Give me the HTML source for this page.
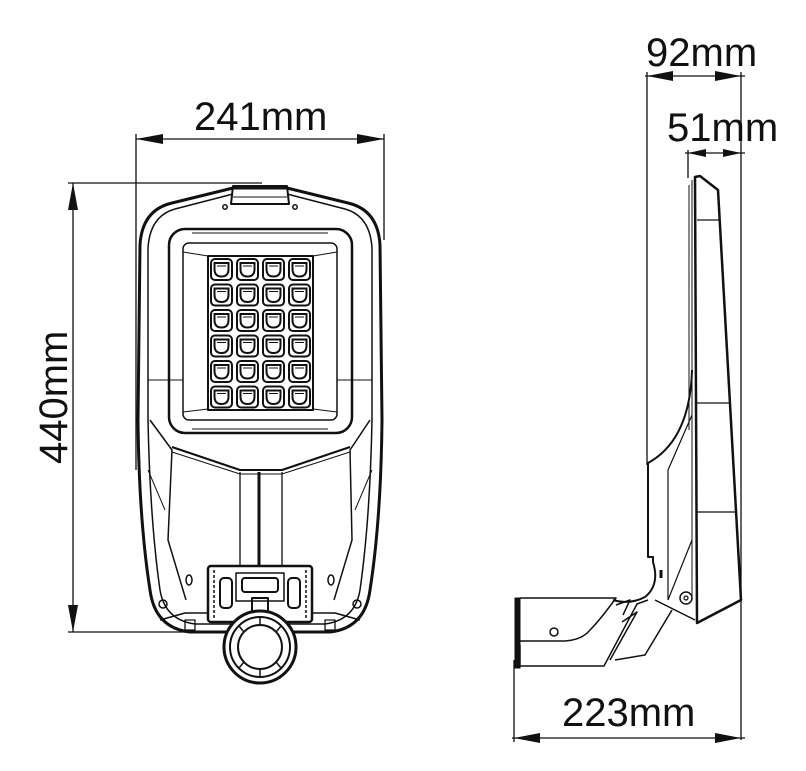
<!DOCTYPE html>
<html><head><meta charset="utf-8"><style>
html,body{margin:0;padding:0;background:#fff}
svg{display:block}
text{font-family:"Liberation Sans",Arial,sans-serif;font-size:40px;fill:#111}
</style></head><body>
<svg width="806" height="771" viewBox="0 0 806 771" xmlns="http://www.w3.org/2000/svg">
<g stroke="#111" fill="none" stroke-width="1.3">
<line x1="136" y1="139" x2="384" y2="139"/>
<line x1="136" y1="134" x2="136" y2="470"/>
<line x1="384" y1="134" x2="384" y2="240"/>
<line x1="73" y1="183" x2="73" y2="632"/>
<line x1="68" y1="183" x2="262" y2="183"/>
<line x1="68" y1="632" x2="190" y2="632"/>
<line x1="645" y1="76" x2="745" y2="76"/>
<line x1="647" y1="72" x2="647" y2="465"/>
<line x1="741" y1="72" x2="741" y2="740"/>
<line x1="685" y1="153" x2="745" y2="153"/>
<line x1="688" y1="150" x2="688" y2="178"/>
<line x1="512" y1="738" x2="745" y2="738"/>
<line x1="514" y1="660" x2="514" y2="742"/>
</g>
<g fill="#111">
<polygon points="136,139 163,134 163,144"/><polygon points="384,139 357,134 357,144"/>
<polygon points="73,183 68,210 78,210"/><polygon points="73,632 68,605 78,605"/>
<polygon points="647,76 673,71 673,81"/><polygon points="741,76 715,71 715,81"/>
<polygon points="688,153 706,149 706,157"/><polygon points="741,153 723,149 723,157"/>
<polygon points="514,738 540,733 540,743"/><polygon points="741,738 715,733 715,743"/>
</g>
<text x="194" y="130">241mm</text>
<text x="646" y="66">92mm</text>
<text x="667" y="141">51mm</text>
<text x="562" y="726">223mm</text>
<text transform="translate(67,464) rotate(-90)">440mm</text>

<g stroke="#111" fill="none" stroke-linejoin="round">
<path stroke-width="3" d="M233,188 L172,203 Q142,210 140,245 L138,420 Q139,520 150,590 Q155,628 190,632 L330,632 Q365,628 370,590 Q381,520 382,420 L380,245 Q378,210 348,203 L287,188 Z"/>
<path stroke-width="1.5" d="M233,194 L175,209 Q150,216 148,248 L148,420 Q150,520 160,590 Q165,620 195,624 L325,624 Q355,620 360,590 Q370,520 372,420 L372,248 Q370,216 345,209 L287,194"/>
<path stroke-width="2" d="M233,186 L287,186 L289,204 L231,204 Z"/>
<line x1="233" y1="197" x2="287" y2="197" stroke-width="1"/>
<circle cx="225" cy="207" r="2.2" stroke-width="1.5"/><circle cx="295" cy="207" r="2.2" stroke-width="1.5"/>
<rect x="169" y="229" width="183" height="204" rx="16" stroke-width="2.5"/>
<rect x="183" y="243" width="154" height="177" rx="6" stroke-width="1.5"/>
<line x1="192" y1="233" x2="328" y2="233" stroke-width="1"/>
<line x1="192" y1="429" x2="328" y2="429" stroke-width="1"/>
<line x1="183" y1="252" x2="208" y2="256" stroke-width="1"/>
<line x1="337" y1="252" x2="313" y2="256" stroke-width="1"/>
<line x1="183" y1="412" x2="208" y2="409" stroke-width="1"/>
<line x1="337" y1="412" x2="313" y2="409" stroke-width="1"/>
<line x1="148" y1="380" x2="183" y2="380" stroke-width="1"/>
<line x1="337" y1="380" x2="372" y2="380" stroke-width="1"/>
<rect x="208" y="256" width="105" height="154" stroke-width="2"/>
<path stroke-width="2" d="M172,447 L240,470 L282,470 L350,447"/>
<path stroke-width="1" d="M172,452 L240,474 L282,474 L350,452"/>
<line x1="240" y1="472" x2="240" y2="566" stroke-width="1.3"/>
<line x1="259" y1="472" x2="259" y2="566" stroke-width="3"/>
<line x1="282" y1="472" x2="282" y2="566" stroke-width="1.3"/>
<path stroke-width="1.5" d="M150,420 L172,450 L168,540 L186,600"/>
<path stroke-width="1.5" d="M370,420 L350,450 L352,540 L334,600"/>
<path stroke-width="1" d="M148,470 L165,510 M372,470 L355,510"/>
<ellipse cx="189" cy="580" rx="3" ry="5" stroke-width="1.5"/>
<ellipse cx="331" cy="580" rx="3" ry="5" stroke-width="1.5"/>
<circle cx="163" cy="604" r="4" stroke-width="1.5"/>
<circle cx="357" cy="604" r="4" stroke-width="1.5"/>
<path stroke-width="1.5" d="M160,620 L185,613 L208,613 M360,620 L335,613 L312,613"/>
<rect x="185" y="620" width="10" height="10" stroke-width="1.3"/>
<rect x="325" y="620" width="10" height="10" stroke-width="1.3"/>
<rect x="208" y="566" width="104" height="56" rx="3" stroke-width="2.5"/>
<rect x="236" y="573" width="48" height="28" stroke-width="1.5"/>
<rect x="242" y="578" width="36" height="14" rx="3" stroke-width="2"/>
<rect x="220" y="578" width="12" height="30" rx="4" stroke-width="2"/>
<rect x="288" y="578" width="12" height="30" rx="4" stroke-width="2"/>
<line x1="214" y1="570" x2="214" y2="618" stroke-width="1.5" stroke-dasharray="3,2"/>
<line x1="306" y1="570" x2="306" y2="618" stroke-width="1.5" stroke-dasharray="3,2"/>
<rect x="252" y="598" width="16" height="14" stroke-width="2"/>
<circle cx="260" cy="647" r="36" fill="#fff" stroke-width="3"/>
<circle cx="260" cy="647" r="30" stroke-width="2"/>
<circle cx="260" cy="647" r="22" stroke-width="2"/>
<path stroke-width="1.5" d="M260,617 V625 M260,669 V677 M239,626 L244,632 M281,626 L276,632 M239,668 L244,662 M281,668 L276,662"/>
</g>
<g stroke="#111" fill="none" stroke-width="2">
<g id="row">
<rect x="211" y="259" width="21" height="21" rx="4"/><path d="M214.5,263 h14 v6 q0,7.5 -7,7.5 q-7,0 -7,-7.5 z"/><path d="M217,266 h9" stroke-width="1"/>
<rect x="237" y="259" width="21" height="21" rx="4"/><path d="M240.5,263 h14 v6 q0,7.5 -7,7.5 q-7,0 -7,-7.5 z"/><path d="M243,266 h9" stroke-width="1"/>
<rect x="263" y="259" width="21" height="21" rx="4"/><path d="M266.5,263 h14 v6 q0,7.5 -7,7.5 q-7,0 -7,-7.5 z"/><path d="M269,266 h9" stroke-width="1"/>
<rect x="289" y="259" width="21" height="21" rx="4"/><path d="M292.5,263 h14 v6 q0,7.5 -7,7.5 q-7,0 -7,-7.5 z"/><path d="M295,266 h9" stroke-width="1"/>
</g>
<use href="#row" y="25.5"/><use href="#row" y="51"/><use href="#row" y="76.5"/><use href="#row" y="102"/><use href="#row" y="127.5"/>
</g>

<g stroke="#111" fill="none" stroke-linejoin="round">
<path stroke-width="2.5" d="M695,177 L700,176 L718,190 L741,600 L697,623 Z"/>
<line x1="692" y1="180" x2="692" y2="600" stroke-width="1"/>
<line x1="689" y1="185" x2="689" y2="430" stroke-width="1"/>
<line x1="697" y1="220" x2="720" y2="220" stroke-width="1.3"/>
<line x1="697" y1="403" x2="731" y2="403" stroke-width="1.3"/>
<line x1="697" y1="512" x2="737" y2="512" stroke-width="1.3"/>
<path stroke-width="2" d="M692,370 Q690,440 648,463 L648,557 L653,557 L653,562 Q660,585 645,597 Q630,605 613,600"/>
<path stroke-width="1.2" d="M692,415 L668,470 M692,540 L668,600 M668,470 L668,600"/>
<line x1="661" y1="570" x2="661" y2="578" stroke-width="3"/>
<circle cx="686" cy="598" r="6" stroke-width="1.5"/><circle cx="686" cy="598" r="2" stroke-width="1.2"/>
<path stroke-width="1.5" d="M655,600 L675,610 L695,620"/>
<rect x="515" y="598" width="5" height="70" fill="#111" stroke-width="1"/>
<path stroke-width="1.5" d="M520,598 L616,598 Q600,620 590,630 Q582,640 565,641 L520,641 M520,645 V666 L604,666 L637,604 L648,600 M616,605 L630,600 L623,615 M622,622 L637,612 L610,660 M615,660 L645,655 L672,610"/>
<circle cx="554" cy="632" r="4" stroke-width="1.5"/>
</g>
</svg>
</body></html>
